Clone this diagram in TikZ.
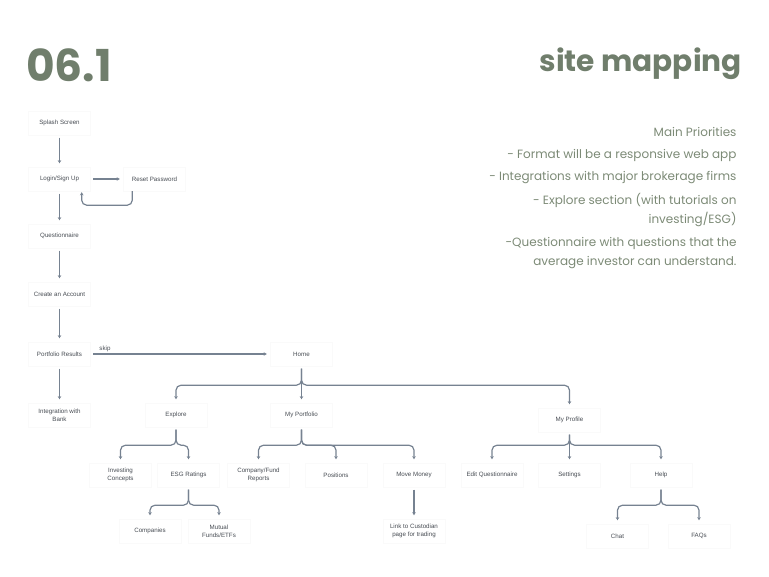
\documentclass[tikz,border=0pt]{standalone}
\usepackage{fontspec}
\setmainfont{Liberation Sans}
\newfontfamily\titlefont{Poppins}
\usetikzlibrary{arrows.meta}

\definecolor{sage}{RGB}{112,126,108}
\definecolor{sagetext}{RGB}{124,138,118}
\definecolor{slate}{RGB}{118,130,145}
\definecolor{ink}{RGB}{72,77,84}

\tikzset{
  screen/.style={draw=black!2, fill=white, minimum width=62pt, minimum height=24pt,
    inner sep=1pt, align=center, text=ink, font=\fontsize{6.2}{7.6}\selectfont},
  link/.style={draw=slate, line width=1.2pt, shorten <=2.5pt, shorten >=3.5pt,
    -{Stealth[length=3.2pt,width=3.6pt]}},
  branch/.style={link, rounded corners=5pt},
  note/.style={anchor=east, text=sagetext, font=\titlefont\fontsize{12}{14}\selectfont}
}

\begin{document}
\begin{tikzpicture}[x=1pt,y=-1pt]
  \useasboundingbox (0,0) rectangle (769,577);

  % headings
  \node[anchor=base west, inner sep=0pt, text=sage, font=\titlefont\bfseries\fontsize{44}{44}\selectfont]
    (number) at (26,82) {06.1};
  \node[anchor=base east, inner sep=0pt, text=sage, font=\titlefont\bfseries\fontsize{29.6}{29.6}\selectfont]
    (heading) at (742,72) {site mapping};

  % priorities
  \foreach \Y/\Text in {132/{Main Priorities},
                        155/{- Format will be a responsive web app},
                        178/{- Integrations with major brokerage firms},
                        200/{- Explore section (with tutorials on},
                        219/{investing/ESG)},
                        243/{-Questionnaire with questions that the},
                        263/{average investor can understand.}}
  {
    \node[note] (note\Y) at (740,\Y) {\Text};
  }

  % onboarding column
  \node[screen] (splash)  at (59.5,123) {Splash Screen};
  \node[screen] (login)   at (59.5,179) {Login/Sign Up};
  \node[screen] (reset)   at (154.5,179) {Reset Password};
  \node[screen] (quiz)    at (59.5,236) {Questionnaire};
  \node[screen] (account) at (59.5,294) {Create an Account};
  \node[screen] (results) at (59.5,354) {Portfolio Results};
  \node[screen] (bank)    at (59.5,415) {Integration with\\Bank};

  % main app
  \node[screen] (home)      at (301.5,354) {Home};
  \node[screen] (explore)   at (176,415) {Explore};
  \node[screen] (portfolio) at (301.5,415) {My Portfolio};
  \node[screen] (profile)   at (569.5,420) {My Profile};

  \node[screen] (concepts)  at (120.5,475) {Investing\\Concepts};
  \node[screen] (ratings)   at (188.5,475) {ESG Ratings};
  \node[screen] (reports)   at (258.5,475) {Company/Fund\\Reports};
  \node[screen] (positions) at (336,475) {Positions};
  \node[screen] (money)     at (414,475) {Move Money};
  \node[screen] (editquiz)  at (492,475) {Edit Questionnaire};
  \node[screen] (settings)  at (569.5,475) {Settings};
  \node[screen] (help)      at (661,475) {Help};

  \node[screen] (companies) at (150,531) {Companies};
  \node[screen] (funds)     at (219,531) {Mutual\\Funds/ETFs};
  \node[screen] (custodian) at (414,531) {Link to Custodian\\page for trading};
  \node[screen] (chat)      at (617.5,536) {Chat};
  \node[screen] (faqs)      at (699,536) {FAQs};

  % onboarding flow
  \foreach \From/\To in {splash/login,login/quiz,quiz/account,account/results,results/bank}
  {
    \draw[link] (\From) -- (\To);
  }
  \draw[link] (login) -- (reset);
  \draw[branch, shorten <=0pt, shorten >=1pt]
    ([xshift=9pt]reset.south west) -- ++(0,14) -| ([xshift=-9pt]login.south east);
  \draw[link] (results) -- node[pos=0.04, above=1pt, anchor=south west, inner sep=1pt,
    text=ink, font=\fontsize{6.2}{7.6}\selectfont] (skip) {skip} (home);

  % site tree
  \foreach \Kid in {explore,profile}
    \draw[branch] (home.south) -- ++(0,19) -| (\Kid.north);
  \draw[link] (home) -- (portfolio);

  \foreach \Kid in {concepts,ratings}
    \draw[branch] (explore.south) -- ++(0,18) -| (\Kid.north);
  \foreach \Kid in {reports,positions,money}
    \draw[branch] (portfolio.south) -- ++(0,18) -| (\Kid.north);
  \foreach \Kid in {editquiz,help}
    \draw[branch] (profile.south) -- ++(0,13) -| (\Kid.north);
  \draw[link] (profile) -- (settings);

  \foreach \Kid in {companies,funds}
    \draw[branch] (ratings.south) -- ++(0,18) -| (\Kid.north);
  \draw[link] (money) -- (custodian);
  \foreach \Kid in {chat,faqs}
    \draw[branch] (help.south) -- ++(0,18) -| (\Kid.north);
\end{tikzpicture}
\end{document}
